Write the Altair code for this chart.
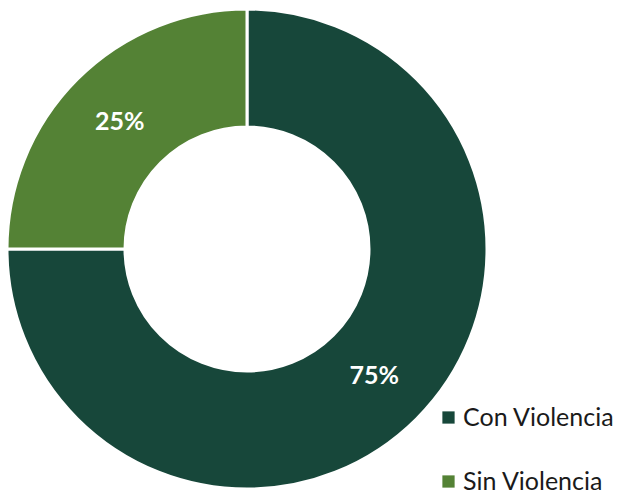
import altair as alt
import pandas as pd

categories = ["Con Violencia", "Sin Violencia"]
values = [75, 25]
labels = ["75%", "25%"]
colors = ["#17473a", "#548235"]

df = pd.DataFrame({"cat": categories, "value": values, "label": labels, "order": [0, 1]})

base = alt.Chart(df).encode(
    theta=alt.Theta("value:Q", stack=True),
    order=alt.Order("order:Q"),
)

arcs = base.mark_arc(radius=240, radius2=122, stroke="white", strokeWidth=3).encode(
    color=alt.Color(
        "cat:N",
        scale=alt.Scale(domain=categories, range=colors),
        legend=alt.Legend(
            title=None,
            orient="none",
            legendX=428,
            legendY=397,
            symbolType="square",
            symbolSize=150,
            symbolStrokeWidth=0,
            labelFont="Lato",
            labelFontSize=25,
            labelColor="#1a1a1a",
            rowPadding=38,
            labelOffset=2,
        ),
    ),
    x=alt.value(239),
    y=alt.value(241),
)

text = base.mark_text(radius=180, font="Lato", fontSize=25, fontWeight="bold", color="white").encode(
    text="label:N",
    x=alt.value(239),
    y=alt.value(241),
)

chart = (arcs + text).properties(
    width=615,
    height=488,
    autosize=alt.AutoSizeParams(type="none"),
    padding=0,
).configure_view(stroke=None)

chart.save("out.html", embed_options={"renderer": "svg", "actions": False})
